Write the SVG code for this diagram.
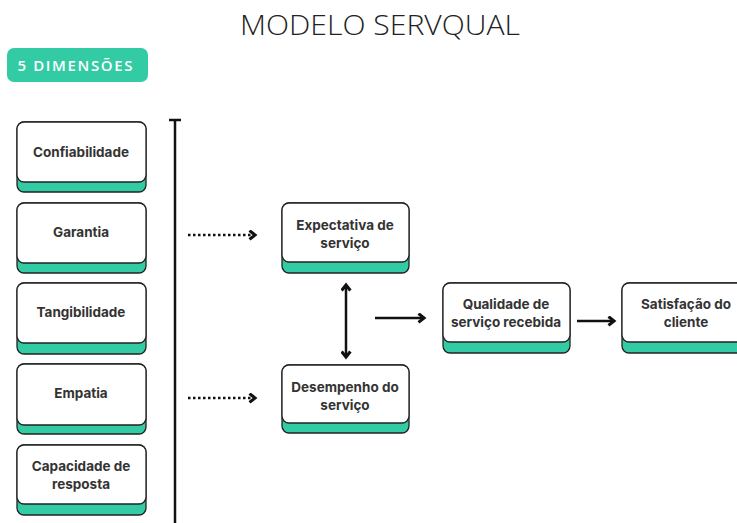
<svg xmlns="http://www.w3.org/2000/svg" width="737" height="523" viewBox="0 0 737 523">
<defs>
<style>
.base{fill:#33CBA4;stroke:#222;stroke-width:1.3}
.card{fill:#fff;stroke:#222;stroke-width:1.3}
.lbl{font-family:Inter,"Noto Sans",sans-serif;font-weight:700;font-size:13.5px;fill:#333;text-anchor:middle}
.con{stroke:#111;stroke-width:2.5;fill:none}
.dot{stroke:#111;stroke-width:2.5;fill:none;stroke-dasharray:2.5 2.5}
</style>
<marker id="chev" viewBox="0 0 10 10" refX="7" refY="5" markerWidth="11" markerHeight="11" markerUnits="userSpaceOnUse" orient="auto-start-reverse">
<path d="M2,1 L7,5 L2,9" fill="none" stroke="#111" stroke-width="2.8"/>
</marker>
</defs>
<rect width="737" height="523" fill="#fff"/>
<text x="380" y="35" font-family="'Open Sans',sans-serif" font-weight="300" font-size="27" fill="#222" text-anchor="middle" textLength="280" lengthAdjust="spacingAndGlyphs">MODELO SERVQUAL</text>
<g id="badge">
<rect x="7" y="48" width="141" height="34" rx="7" fill="#33CBA4"/>
<text x="77" y="71" font-family="'Open Sans',sans-serif" font-weight="600" font-size="15" fill="#fff" text-anchor="middle" letter-spacing="4" textLength="119">5 DIMENSÕES</text>
</g>
<g id="axis">
<line x1="175" y1="119" x2="175" y2="523" stroke="#111" stroke-width="2.5"/>
<line x1="169" y1="120" x2="181" y2="120" stroke="#111" stroke-width="2.5"/>
</g>
<g id="n-confiabilidade">
<rect class="base" x="17" y="122" width="129" height="70" rx="7"/>
<rect class="card" x="17" y="122" width="129" height="60" rx="7"/>
<text class="lbl" x="81" y="157">Confiabilidade</text>
</g>
<g id="n-garantia">
<rect class="base" x="17" y="203" width="129" height="70" rx="7"/>
<rect class="card" x="17" y="203" width="129" height="60" rx="7"/>
<text class="lbl" x="81" y="237">Garantia</text>
</g>
<g id="n-tangibilidade">
<rect class="base" x="17" y="283" width="129" height="71" rx="7"/>
<rect class="card" x="17" y="283" width="129" height="60" rx="7"/>
<text class="lbl" x="81" y="317">Tangibilidade</text>
</g>
<g id="n-empatia">
<rect class="base" x="17" y="364" width="129" height="70" rx="7"/>
<rect class="card" x="17" y="364" width="129" height="61" rx="7"/>
<text class="lbl" x="81" y="398">Empatia</text>
</g>
<g id="n-capacidade">
<rect class="base" x="17" y="445" width="129" height="70" rx="7"/>
<rect class="card" x="17" y="445" width="129" height="59" rx="7"/>
<text class="lbl" x="81" y="471">Capacidade de</text>
<text class="lbl" x="81" y="489">resposta</text>
</g>
<g id="n-expectativa">
<rect class="base" x="282" y="203" width="127" height="70" rx="7"/>
<rect class="card" x="282" y="203" width="127" height="59" rx="7"/>
<text class="lbl" x="345" y="230">Expectativa de</text>
<text class="lbl" x="345" y="248">serviço</text>
</g>
<g id="n-desempenho">
<rect class="base" x="282" y="365" width="127" height="68" rx="7"/>
<rect class="card" x="282" y="365" width="127" height="58" rx="7"/>
<text class="lbl" x="345" y="392">Desempenho do</text>
<text class="lbl" x="345" y="410">serviço</text>
</g>
<g id="n-qualidade">
<rect class="base" x="443" y="283" width="127" height="70" rx="7"/>
<rect class="card" x="443" y="283" width="127" height="59" rx="7"/>
<text class="lbl" x="506" y="309">Qualidade de</text>
<text class="lbl" x="506" y="327">serviço recebida</text>
</g>
<g id="n-satisfacao">
<rect class="base" x="622" y="283" width="127" height="70" rx="7"/>
<rect class="card" x="622" y="283" width="127" height="59" rx="7"/>
<text class="lbl" x="686" y="309">Satisfação do</text>
<text class="lbl" x="686" y="327">cliente</text>
</g>
<g id="connectors">
<line class="dot" x1="188" y1="235" x2="255" y2="235" marker-end="url(#chev)"/>
<line class="dot" x1="188" y1="398" x2="255" y2="398" marker-end="url(#chev)"/>
<line class="con" x1="346" y1="285" x2="346" y2="357" marker-start="url(#chev)" marker-end="url(#chev)"/>
<line class="con" x1="375" y1="318" x2="424" y2="318" marker-end="url(#chev)"/>
<line class="con" x1="577" y1="321" x2="614" y2="321" marker-end="url(#chev)"/>
</g>
</svg>
